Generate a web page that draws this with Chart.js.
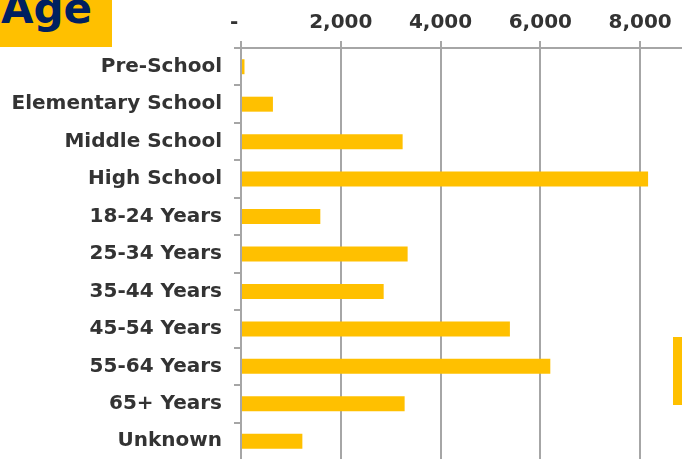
<!DOCTYPE html>
<html><head><meta charset="utf-8">
<script src="https://cdn.jsdelivr.net/npm/chart.js@4"></script>
<style>
html,body{margin:0;padding:0;background:#fff;overflow:hidden}
#wrap{position:relative;width:682px;height:459px;overflow:hidden;background:#fff}
#c{position:absolute;left:0;top:0}
#title{position:absolute;left:0;top:0;width:112px;height:47px;background:#FFC000;overflow:hidden}
#title span{position:absolute;left:1px;top:-12px;font:bold 42px "DejaVu Sans";line-height:42px;color:#002060;white-space:nowrap}
#side{position:absolute;left:673px;top:337px;width:20px;height:68px;background:#FFC000}
</style></head><body>
<div id="wrap"><canvas id="c" width="690" height="460"></canvas>
<div id="title"><span>Age</span></div><div id="side"></div></div>
<script>
const categories = ['Pre-School','Elementary School','Middle School','High School','18-24 Years','25-34 Years','35-44 Years','45-54 Years','55-64 Years','65+ Years','Unknown'];
const values = [70, 640, 3240, 8160, 1590, 3340, 2860, 5390, 6200, 3280, 1230];
const tickValues = [0, 2000, 4000, 6000, 8000];
const tickLabels = ['-', '2,000', '4,000', '6,000', '8,000'];

const font = {family:'DejaVu Sans', size:20, weight:'bold'};
new Chart(document.getElementById('c'), {
  type:'bar',
  data:{labels:categories, datasets:[{data:values, backgroundColor:'#FFC000', barPercentage:0.4, categoryPercentage:1}]},
  options:{
    indexAxis:'y', responsive:false, animation:false, devicePixelRatio:1,
    layout:{padding:0},
    plugins:{legend:{display:false}, tooltip:{enabled:false}, title:{display:false}},
    scales:{
      x:{
        position:'top', min:0, max:9000,
        afterBuildTicks(s){ s.ticks = tickValues.map(v=>({value:v})); },
        afterFit(s){ s.height = 48; s.paddingLeft = 0; s.paddingRight = 0; },
        ticks:{
          callback:(v)=>{ const i = tickValues.indexOf(v); if(i<0) return ''; return i===0 ? tickLabels[0]+'  ' : tickLabels[i]; },
          font, color:'#333', padding:6, maxRotation:0, autoSkip:false
        },
        grid:{color:'#a6a6a6', lineWidth:2, tickLength:7, drawTicks:true},
        border:{color:'#a6a6a6', width:2}
      },
      y:{
        afterFit(s){ s.width = 241; s.paddingTop = 0; s.paddingBottom = 0; },
        ticks:{font, color:'#333', padding:12, autoSkip:false},
        grid:{drawOnChartArea:false, color:'#a6a6a6', lineWidth:2, tickLength:7, offset:true},
        border:{color:'#a6a6a6', width:2}
      }
    }
  }
});
</script>
</body></html>
